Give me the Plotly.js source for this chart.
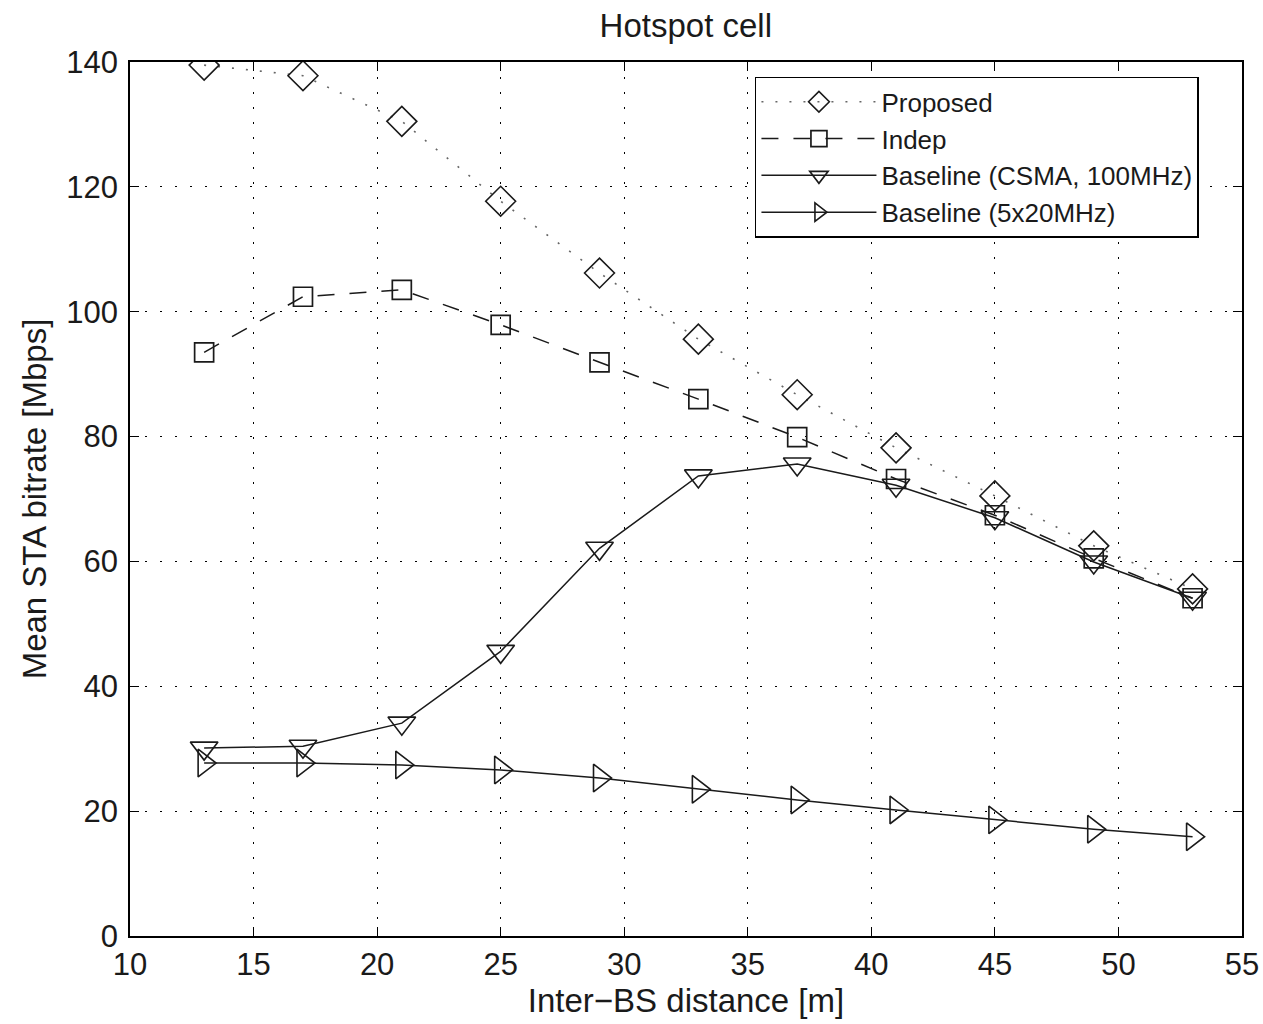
<!DOCTYPE html>
<html>
<head>
<meta charset="utf-8">
<script src="https://cdn.plot.ly/plotly-3.0.1.min.js"></script>
<style>body{margin:0;background:#fff;} #chart{width:1263px;height:1024px;}</style>
</head>
<body>
<div id="chart"></div>
<script>
const distances = [13, 17, 21, 25, 29, 33, 37, 41, 45, 49, 53];
const proposed = [139.5, 137.8, 130.5, 117.7, 106.2, 95.6, 86.7, 78.2, 70.5, 62.5, 55.6];
const indep = [93.5, 102.4, 103.5, 97.9, 91.9, 86.0, 79.9, 73.2, 67.4, 60.5, 54.1];
const baselineCsma = [30.1, 30.4, 34.1, 45.6, 62.1, 73.7, 75.6, 72.2, 67.0, 59.9, 54.1];
const baseline5x20 = [27.7, 27.7, 27.4, 26.6, 25.3, 23.5, 21.8, 20.2, 18.6, 17.1, 15.9];
const seriesNames = ["Proposed", "Indep", "Baseline (CSMA, 100MHz)", "Baseline (5x20MHz)"];
const xTicks = [10, 15, 20, 25, 30, 35, 40, 45, 50, 55];
const yTicks = [0, 20, 40, 60, 80, 100, 120, 140];

const font = "Liberation Sans, Arial, sans-serif";
const ink = "#1a1a1a";
const traces = [
  {x: distances, y: proposed, name: seriesNames[0], mode: "lines+markers",
   line: {color: "#666", width: 1.6, dash: "2px,12px"},
   marker: {symbol: "diamond-open", size: 23, color: ink, line: {width: 1.6, color: ink}}},
  {x: distances, y: indep, name: seriesNames[1], mode: "lines+markers",
   line: {color: ink, width: 1.5, dash: "17px,15px"},
   marker: {symbol: "square-open", size: 19, color: ink, line: {width: 1.7, color: ink}}},
  {x: distances, y: baselineCsma, name: seriesNames[2], mode: "lines+markers",
   line: {color: ink, width: 1.5},
   marker: {symbol: "triangle-down-open", size: 24, color: ink, line: {width: 1.6, color: ink}}},
  {x: distances, y: baseline5x20, name: seriesNames[3], mode: "lines+markers",
   line: {color: ink, width: 1.5},
   marker: {symbol: "triangle-right-open", size: 24, color: ink, line: {width: 1.6, color: ink}}}
];

const axisCommon = {
  showline: true, linecolor: "#000", linewidth: 1.5, mirror: "ticks",
  ticks: "inside", ticklen: 9, tickcolor: "#000", tickwidth: 1,
  showgrid: true, gridcolor: "#000", griddash: "2px,13px", gridwidth: 1.2,
  zeroline: false, tickfont: {family: font, size: 31, color: ink}
};

const layout = {
  width: 1263, height: 1024,
  margin: {l: 130, r: 21, t: 62, b: 88},
  paper_bgcolor: "#fff", plot_bgcolor: "#fff",
  title: {text: "Hotspot cell", font: {family: font, size: 33, color: ink}, x: 0.543, xanchor: "center", y: 0.975, yanchor: "middle"},
  xaxis: Object.assign({}, axisCommon, {range: [10, 55], tickvals: xTicks, ticklabelstandoff: 0,
    title: {text: "Inter\u2212BS distance [m]", font: {family: font, size: 33, color: ink}, standoff: 2}}),
  yaxis: Object.assign({}, axisCommon, {range: [0, 140], tickvals: yTicks, ticklabelstandoff: 4,
    title: {text: "Mean STA bitrate [Mbps]", font: {family: font, size: 33, color: ink}, standoff: 10}}),
  showlegend: true,
  legend: {x: 0.562, y: 0.983, xanchor: "left", yanchor: "top",
    bgcolor: "#fff", bordercolor: "#000", borderwidth: 1.5,
    font: {family: font, size: 26, color: ink}, itemwidth: 115, tracegroupgap: 0}
};

Plotly.newPlot("chart", traces, layout, {displayModeBar: false});
</script>
</body>
</html>
